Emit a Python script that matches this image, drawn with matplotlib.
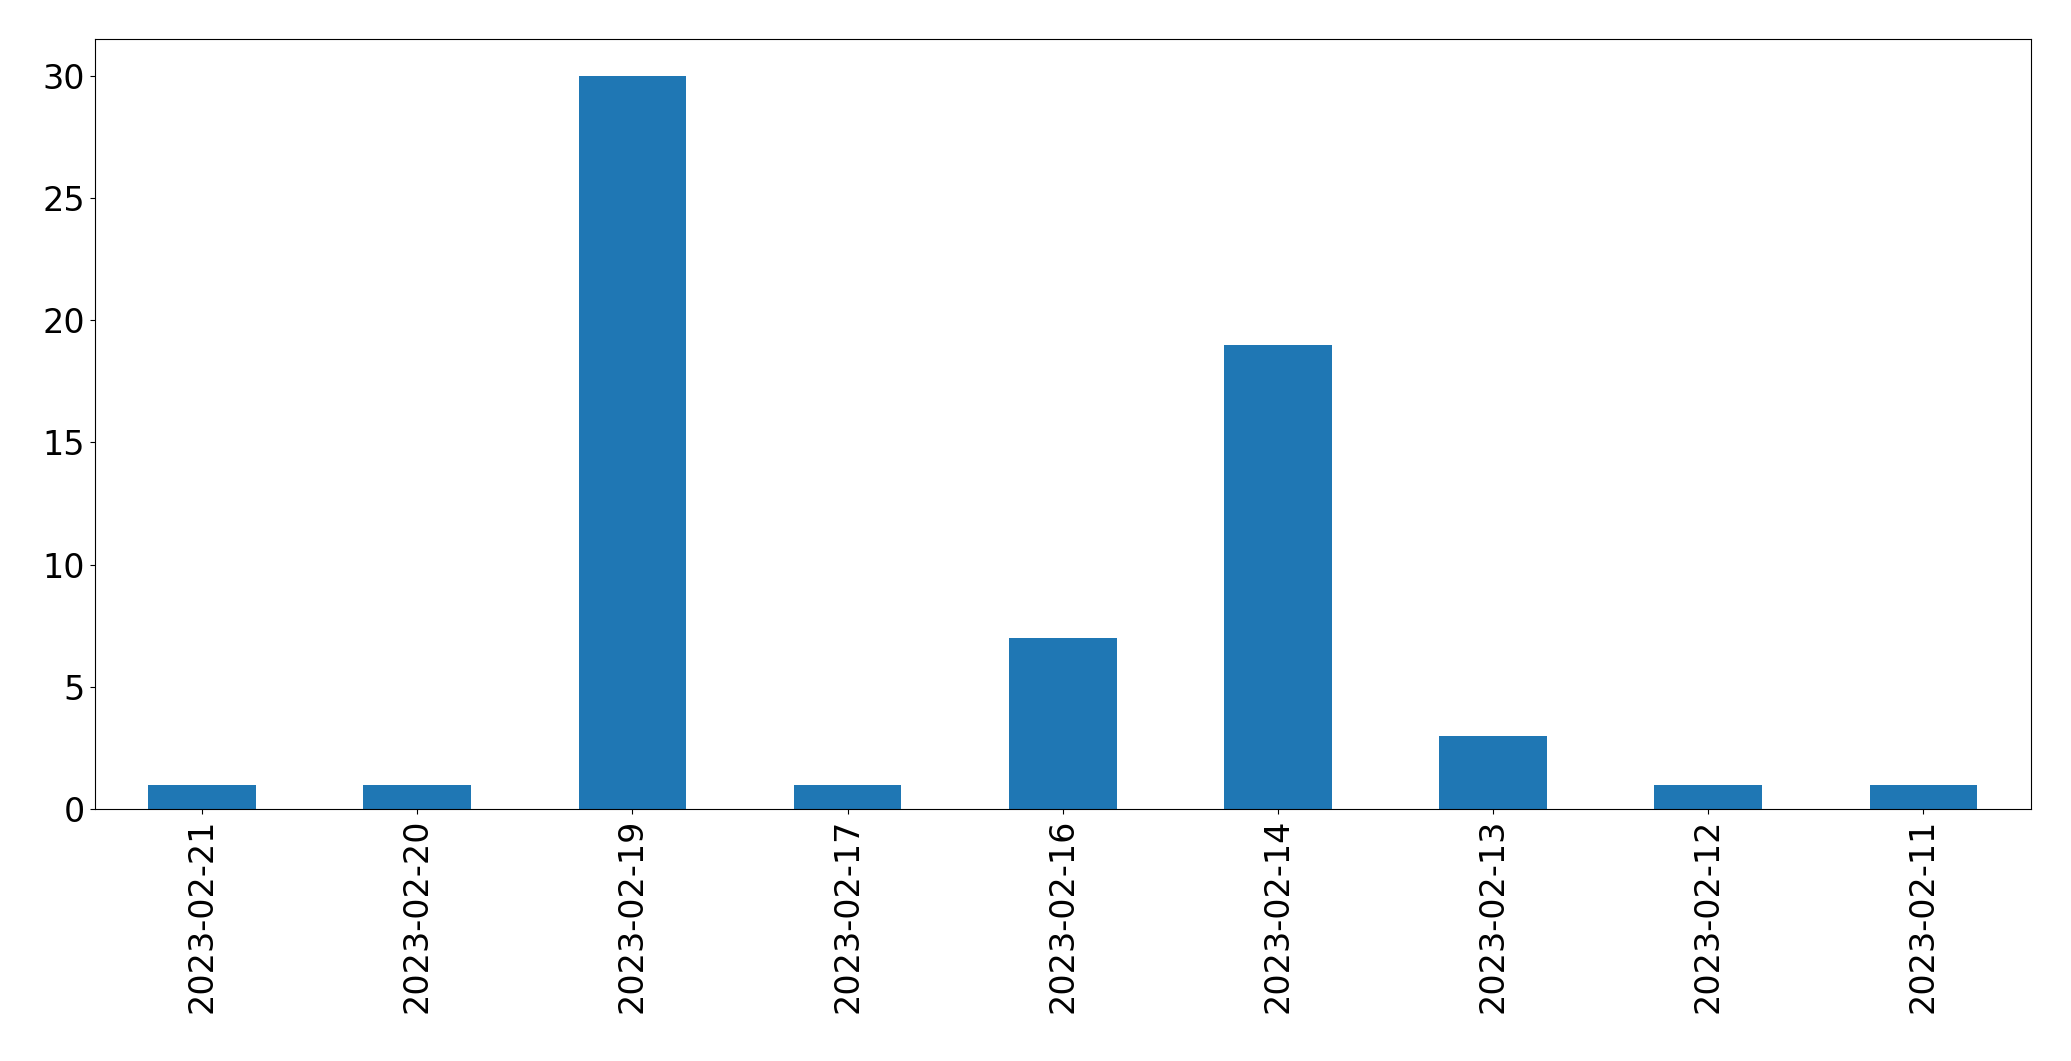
import matplotlib
matplotlib.use("Agg")
import matplotlib.pyplot as plt

dates = ["2023-02-21", "2023-02-20", "2023-02-19", "2023-02-17", "2023-02-16",
         "2023-02-14", "2023-02-13", "2023-02-12", "2023-02-11"]
counts = [1, 1, 30, 1, 7, 19, 3, 1, 1]

fig = plt.figure(figsize=(20.71, 10.61), dpi=100)
ax = fig.add_axes([94.5 / 2071, 1 - 809 / 1061, (2031 - 94.5) / 2071, (809 - 39.3) / 1061])
x = list(range(len(dates)))
ax.bar(x, counts, width=0.5, color="#1f77b4")
ax.set_xlim(-0.5, len(dates) - 0.5)
ax.set_ylim(0, 31.5)
ax.set_xticks(x)
ax.set_xticklabels(dates, rotation=90)
ax.tick_params(axis="both", labelsize=24)
fig.savefig("out.png", dpi=100)
